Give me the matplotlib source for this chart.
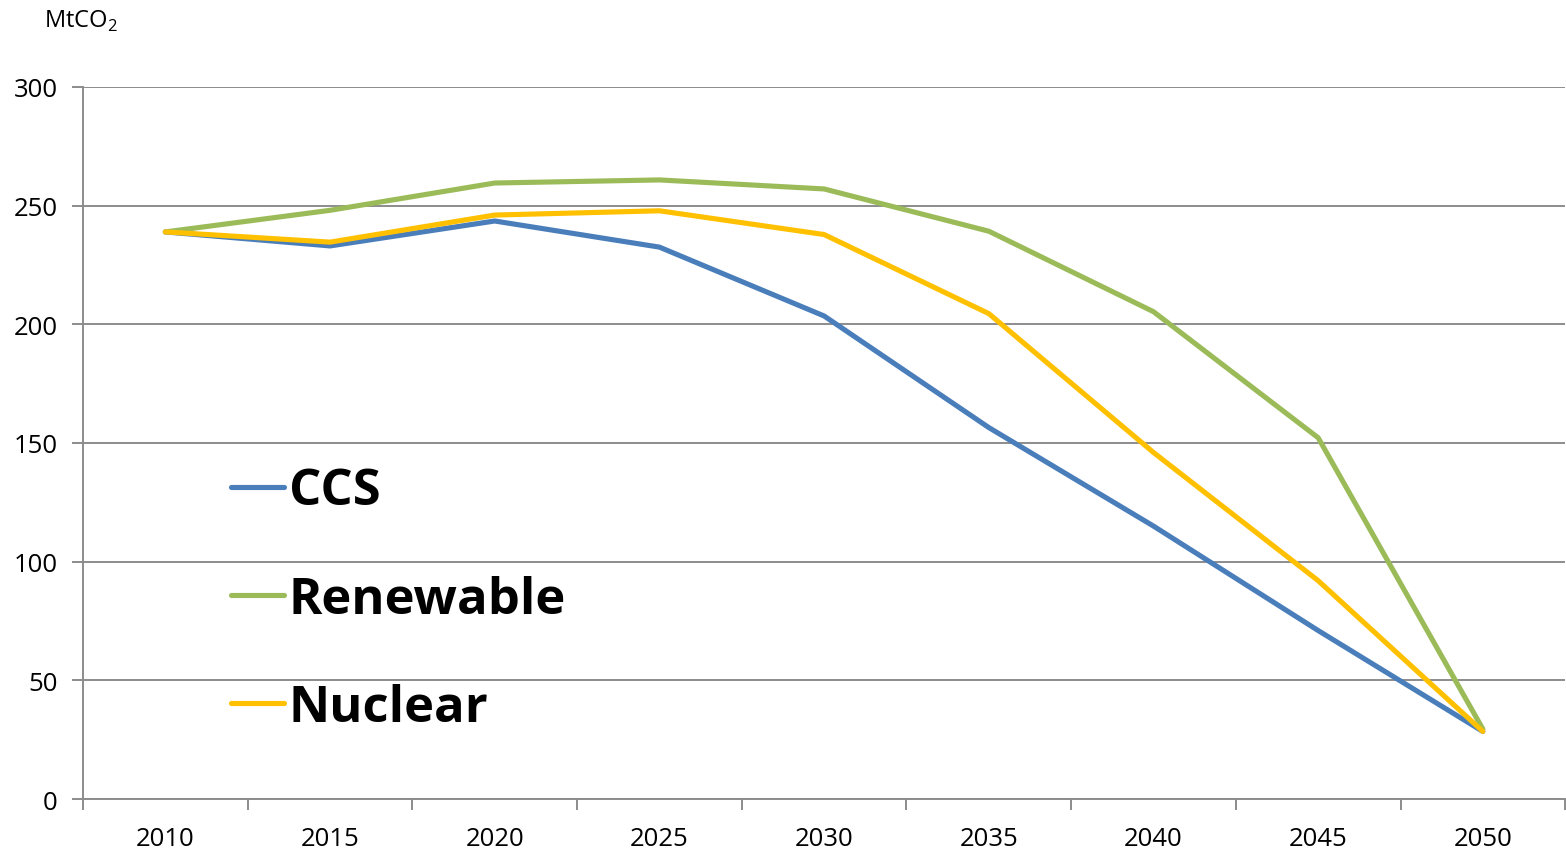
import matplotlib
matplotlib.use("Agg")
import matplotlib.pyplot as plt
from matplotlib.ticker import FixedLocator, NullFormatter

plt.rcParams["font.family"] = ["Open Sans", "DejaVu Sans"]
plt.rcParams["mathtext.fontset"] = "custom"
plt.rcParams["mathtext.rm"] = "Open Sans"

# Emission pathways per scenario (MtCO2)
years = ["2010", "2015", "2020", "2025", "2030", "2035", "2040", "2045", "2050"]
ccs = [238.9, 233.0, 243.5, 232.5, 203.5, 156.5, 115.0, 71.0, 28.5]
renewable = [238.9, 248.0, 259.5, 260.8, 257.0, 239.2, 205.3, 152.2, 29.5]
nuclear = [238.9, 234.6, 246.0, 247.8, 237.8, 204.5, 146.0, 92.0, 28.5]

grid_grey = "#8c8c8c"

fig = plt.figure(figsize=(15.66, 8.53), dpi=100)
ax = fig.add_axes([0.053, 0.062, 0.9465, 0.835])

x = list(range(len(years)))
ax.plot(x, ccs, color="#4a7ebb", lw=3.7, solid_capstyle="round", label="CCS")
ax.plot(x, renewable, color="#9bbb59", lw=3.7, solid_capstyle="round", label="Renewable")
ax.plot(x, nuclear, color="#ffc000", lw=3.7, solid_capstyle="round", label="Nuclear")

ax.set_xlim(-0.5, len(years) - 0.5)
ax.set_ylim(0, 300)
ax.set_yticks(range(0, 301, 50))
ax.yaxis.grid(True, color=grid_grey, lw=1.4)
ax.set_axisbelow(True)

# category boundaries get tick marks, labels sit at category centres
ax.xaxis.set_major_locator(FixedLocator([i - 0.5 for i in range(len(years) + 1)]))
ax.xaxis.set_major_formatter(NullFormatter())
ax.xaxis.set_minor_locator(FixedLocator(x))
ax.set_xticklabels(years, minor=True)
ax.tick_params(axis="x", which="major", length=8, width=1.4, color=grid_grey)
ax.tick_params(axis="x", which="minor", length=0, pad=19, labelsize=18.5)
ax.tick_params(axis="y", length=8, width=1.4, color=grid_grey, labelsize=18.5, pad=10)

for side in ("top", "right"):
    ax.spines[side].set_visible(False)
for side in ("left", "bottom"):
    ax.spines[side].set_color(grid_grey)
    ax.spines[side].set_linewidth(1.4)

ax.legend(loc="center left", bbox_to_anchor=(0.1, 0.28), frameon=False,
          prop={"weight": "bold", "size": 36.5}, handlelength=1.05,
          handletextpad=0.08, labelspacing=1.15, borderpad=0, borderaxespad=0)

fig.text(0.028, 0.99, "MtCO$_2$", fontsize=17, va="top", ha="left")

fig.savefig("out.png", dpi=100)
